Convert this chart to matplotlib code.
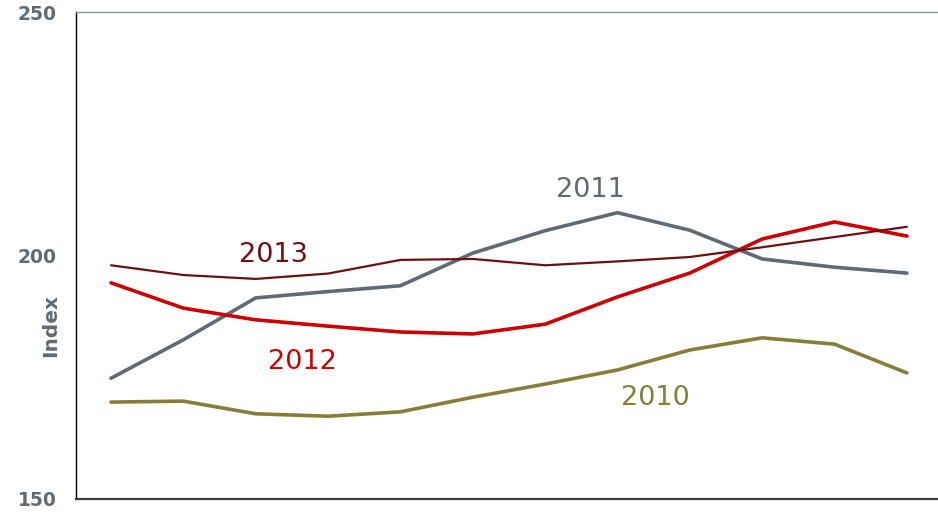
import matplotlib
matplotlib.use("Agg")
import matplotlib.pyplot as plt

# monthly index values per year
months = list(range(12))
idx_2010 = [169.9, 170.1, 167.5, 167.0, 167.9, 170.9, 173.6, 176.5, 180.6, 183.1, 181.8, 175.9]
idx_2011 = [174.8, 182.7, 191.3, 192.6, 193.8, 200.5, 205.1, 208.8, 205.2, 199.3, 197.6, 196.4]
idx_2012 = [194.4, 189.2, 186.8, 185.5, 184.3, 183.9, 185.9, 191.5, 196.4, 203.4, 206.9, 204.0]
idx_2013 = [198.0, 196.0, 195.2, 196.3, 199.1, 199.3, 198.0, 198.8, 199.7, 201.7, 203.8, 205.9]

yticks = [150, 200, 250]

c2010 = '#857e3b'
c2011 = '#5f6a72'
c2012 = '#cc0000'
c2013 = '#6b1111'
grey = '#606a72'

fig = plt.figure(figsize=(9.38, 5.12), dpi=100)
ax = fig.add_axes([0.081, 0.0254, 0.919, 0.951])

ax.plot(months, idx_2010, color=c2010, linewidth=2.6, solid_capstyle='round')
ax.plot(months, idx_2011, color=c2011, linewidth=2.6, solid_capstyle='round')
ax.plot(months, idx_2012, color=c2012, linewidth=2.6, solid_capstyle='round')
ax.plot(months, idx_2013, color=c2013, linewidth=1.6, solid_capstyle='round')

# year labels placed next to their lines
ax.text(2.24, 200.1, '2013', color=c2013, fontsize=19.5, ha='center', va='center')
ax.text(6.62, 213.5, '2011', color=c2011, fontsize=19.5, ha='center', va='center')
ax.text(2.65, 178.1, '2012', color=c2012, fontsize=19.5, ha='center', va='center')
ax.text(7.53, 170.7, '2010', color=c2010, fontsize=19.5, ha='center', va='center')

ax.set_xlim(-0.484, 11.43)
ax.set_ylim(150, 250)
ax.set_xticks([])
ax.set_yticks(yticks)
ax.set_yticklabels([str(t) for t in yticks], fontsize=13.5, fontweight='bold', color=grey)
ax.tick_params(axis='y', length=0, pad=14)
ax.set_ylabel('Index', fontsize=14.5, fontweight='bold', color=grey)
ax.yaxis.set_label_coords(-0.018, 0.357)

ax.spines['right'].set_visible(False)
ax.spines['top'].set_color('#8a949b')
ax.spines['top'].set_linewidth(1.0)
ax.spines['left'].set_color('black')
ax.spines['left'].set_linewidth(1.0)
ax.spines['bottom'].set_color('#3a3f44')
ax.spines['bottom'].set_linewidth(1.6)

fig.savefig('out.png', dpi=100)
